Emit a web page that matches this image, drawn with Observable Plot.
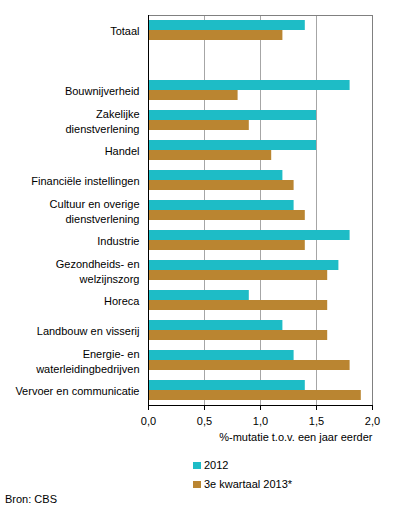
<!DOCTYPE html>
<html>
<head>
<meta charset="utf-8">
<script src="https://cdn.jsdelivr.net/npm/d3@7"></script>
<script src="https://cdn.jsdelivr.net/npm/@observablehq/plot@0.6"></script>
<style>
  html, body { margin: 0; padding: 0; background: #fff; }
  body { font-family: "Liberation Sans", Arial, sans-serif; font-size: 11px; color: #000; }
  #wrap { position: relative; width: 396px; height: 510px; }
  .leg { position: absolute; left: 193px; display: flex; align-items: center; white-space: nowrap; line-height: 13px; }
  .sw { width: 8px; height: 7px; margin-right: 3px; display: inline-block; }
  #src { position: absolute; left: 5px; top: 493px; line-height: 13px; }
</style>
</head>
<body>
<div id="wrap">
  <div id="chart"></div>
  <div class="leg" style="top:459px"><span class="sw" style="background:#1EBCC6"></span>2012</div>
  <div class="leg" style="top:478px"><span class="sw" style="background:#BA8531"></span>3e kwartaal 2013*</div>
  <div id="src">Bron: CBS</div>
</div>
<script>
const categories = ["Totaal", " ", "Bouwnijverheid", "Zakelijke\ndienstverlening", "Handel",
  "Financiële instellingen", "Cultuur en overige\ndienstverlening", "Industrie",
  "Gezondheids- en\nwelzijnszorg", "Horeca", "Landbouw en visserij",
  "Energie- en\nwaterleidingbedrijven", "Vervoer en communicatie"];
const sectors = categories.filter(c => c.trim() !== "");
const values2012 = [1.4, 1.8, 1.5, 1.5, 1.2, 1.3, 1.8, 1.7, 0.9, 1.2, 1.3, 1.4];
const valuesQ3 = [1.2, 0.8, 0.9, 1.1, 1.3, 1.4, 1.4, 1.6, 1.6, 1.6, 1.8, 1.9];
const xTicks = [0, 0.5, 1, 1.5, 2];
const xLabel = "%-mutatie t.o.v. een jaar eerder";

const teal = "#1EBCC6", brown = "#BA8531";
const data2012 = sectors.map((s, i) => ({sector: s, value: values2012[i]}));
const dataQ3 = sectors.map((s, i) => ({sector: s, value: valuesQ3[i]}));

const chart = Plot.plot({
  width: 396,
  height: 450,
  marginTop: 15,
  marginBottom: 45,
  marginLeft: 148,
  marginRight: 24,
  style: {fontFamily: "'Liberation Sans', Arial, sans-serif", fontSize: "11px", color: "#000", background: "#fff"},
  x: {domain: [0, 2]},
  y: {domain: categories, paddingInner: 1/3, paddingOuter: 1/6, axis: null},
  marks: [
    Plot.gridX([0.5, 1, 1.5], {stroke: "#a6a6a6", strokeOpacity: 1}),
    Plot.barX(data2012, {x: "value", y: "sector", fill: teal, insetBottom: 10}),
    Plot.barX(dataQ3, {x: "value", y: "sector", fill: brown, insetTop: 10}),
    Plot.frame({stroke: "#808080"}),
    Plot.ruleX([0], {stroke: "#000"}),
    Plot.frame({anchor: "bottom", stroke: "#000"}),
    Plot.axisX({ticks: xTicks, tickFormat: d => d.toFixed(1).replace(".", ","), tickSize: 5, tickPadding: 7, label: null}),
    Plot.text(sectors, {y: d => d, text: d => d, frameAnchor: "left", textAnchor: "end", dx: -9, lineHeight: 1.36}),
    Plot.text([xLabel], {text: d => d, frameAnchor: "bottom-right", textAnchor: "end", dy: 35})
  ]
});
document.getElementById("chart").appendChild(chart);
</script>
</body>
</html>
